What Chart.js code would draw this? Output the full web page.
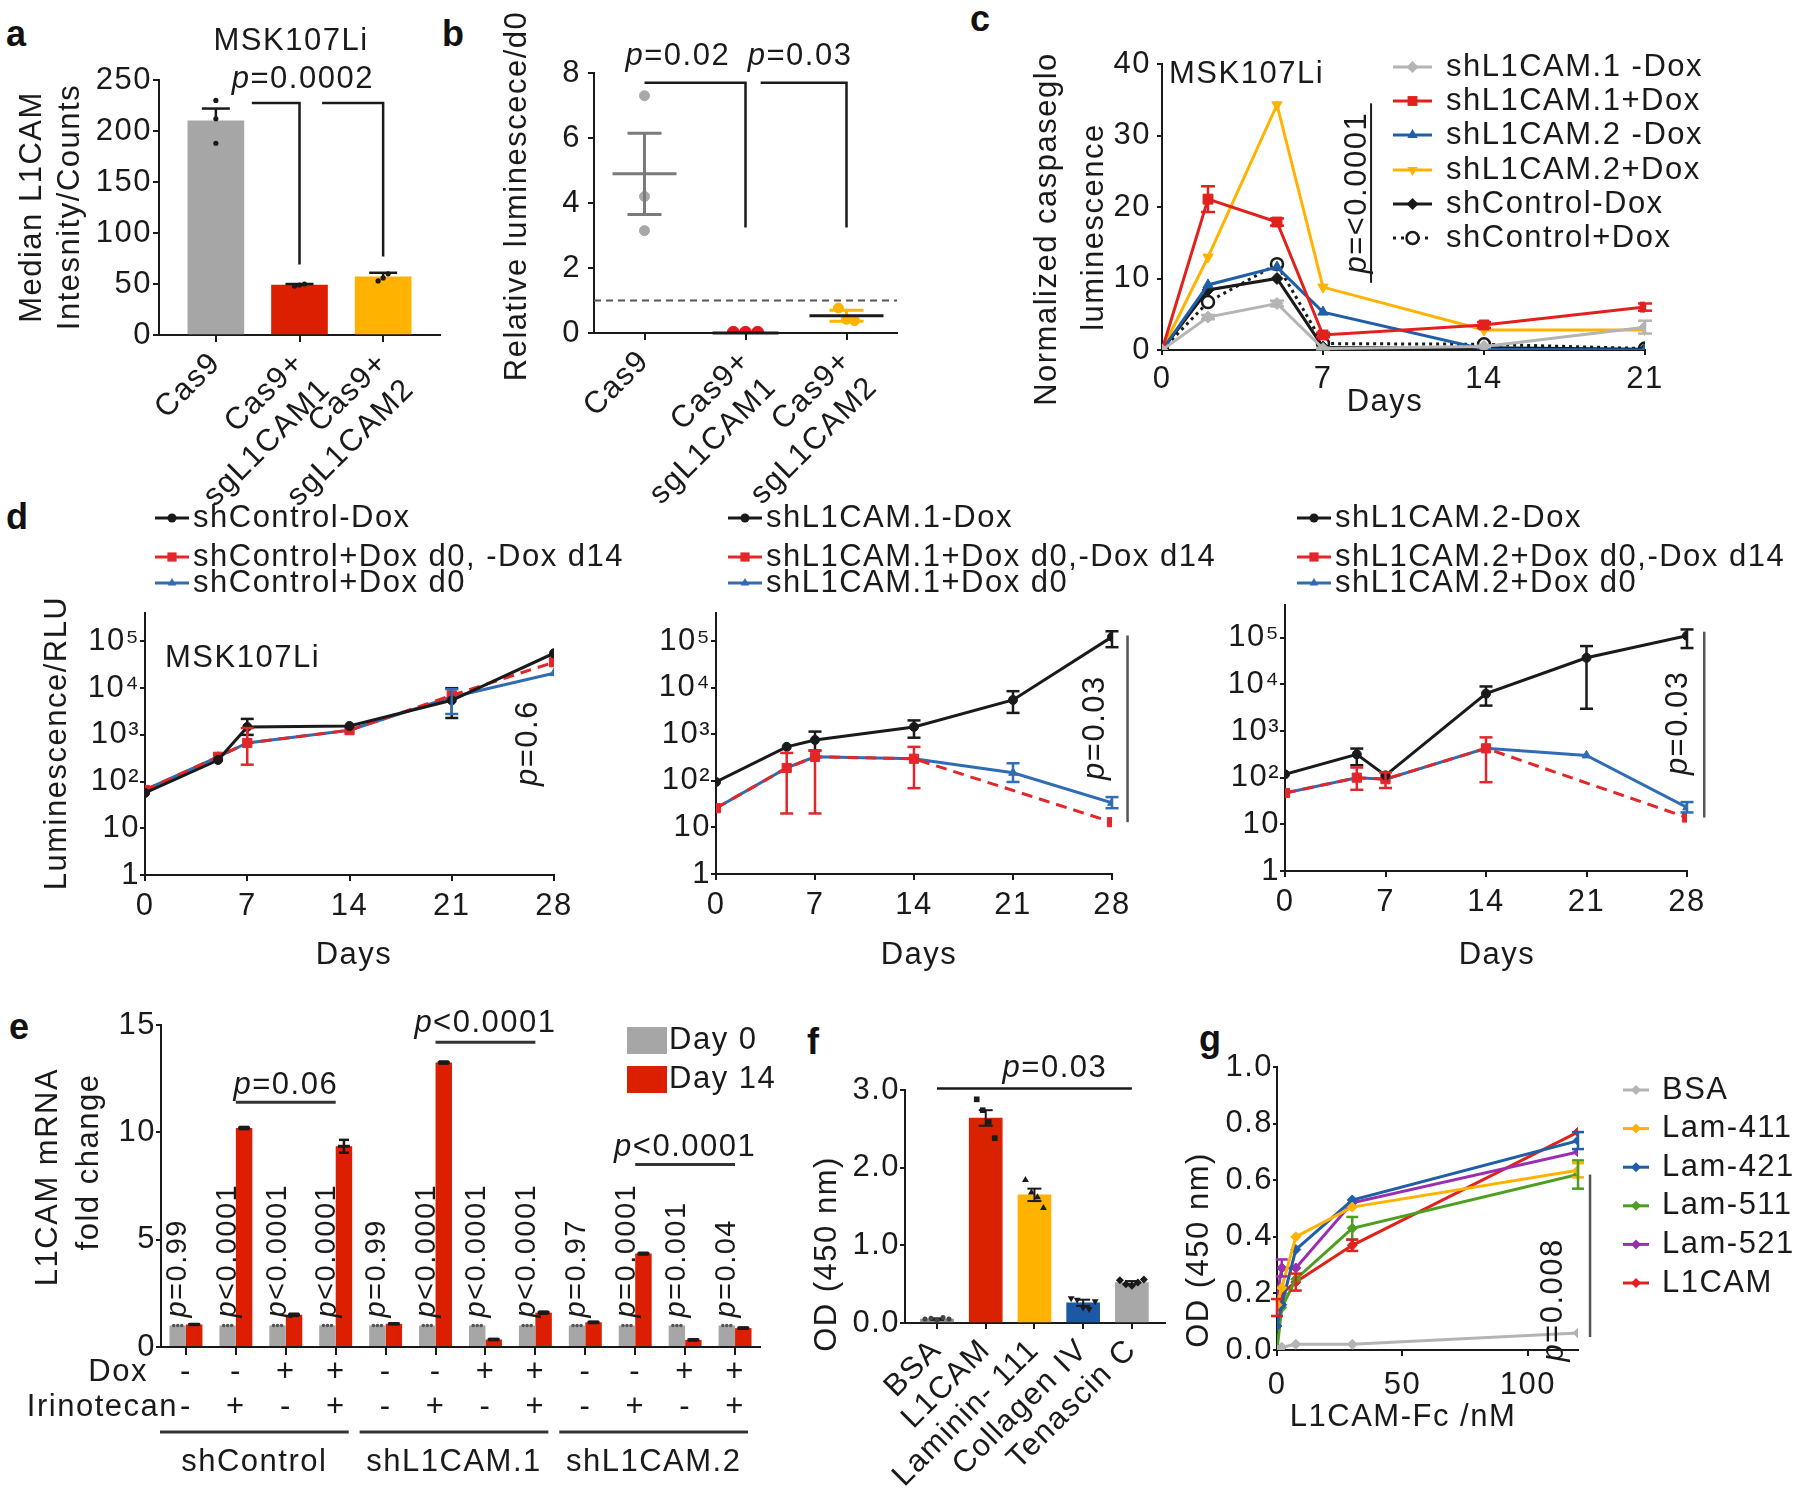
<!DOCTYPE html>
<html>
<head>
<meta charset="utf-8">
<title>L1CAM panels</title>
<script src="https://cdn.jsdelivr.net/npm/chart.js@4.4.1/dist/chart.umd.min.js"></script>
<style>
  html, body { margin: 0; padding: 0; background: #fff; }
  body { position: relative; width: 1800px; height: 1509px; overflow: hidden; }
  canvas { position: absolute; }
  .tag { position: absolute; font: bold 36px "Liberation Sans", Arial, sans-serif; line-height: 1; color: #111; }
</style>
</head>
<body>
<div class="tag" style="left:6px;top:16px">a</div>
<div class="tag" style="left:442px;top:16px">b</div>
<div class="tag" style="left:970px;top:1px">c</div>
<div class="tag" style="left:6px;top:499px">d</div>
<div class="tag" style="left:9px;top:1009px">e</div>
<div class="tag" style="left:807px;top:1024px">f</div>
<div class="tag" style="left:1199px;top:1021px">g</div>
<canvas id="chartA"></canvas>
<canvas id="chartB"></canvas>
<canvas id="chartC"></canvas>
<canvas id="chartD1"></canvas>
<canvas id="chartD2"></canvas>
<canvas id="chartD3"></canvas>
<canvas id="chartE"></canvas>
<canvas id="chartF"></canvas>
<canvas id="chartG"></canvas>
<script>
const FONT = '"Liberation Sans", Arial, sans-serif';
const FS = 31;
const INK = '#1a1a1a';
const GRAY = '#a6a6a6', RED = '#dc1f00', GOLD = '#ffb300', BLUE = '#1f5ea8', LGRAY = '#b4b4b4';
const CRED = '#e2201c', DRED = '#e3262a', DBLUE = '#2f6cb3', GREEN = '#4c9f1f', PURPLE = '#9b2db0';

// a - flow cytometry
const aLabels = [['Cas9'], ['Cas9+', 'sgL1CAM1'], ['Cas9+', 'sgL1CAM2']];
const aMeans = [210, 49, 57];
const aUpper = [222, 50, 61];
const aPoints = [[230, 212, 188], [48, 49, 50], [53, 56, 60]];

// b - relative luminescence
const bLabels = [['Cas9'], ['Cas9+', 'sgL1CAM1'], ['Cas9+', 'sgL1CAM2']];
const bPoints = [[7.3, 4.2, 3.15], [0.02, 0.02, 0.02], [0.77, 0.42, 0.38]];
const bMeans = [4.9, 0.0, 0.53];
const bSem = [1.25, 0, 0.17];

// c - caspase-glo time course
const cDays = [0, 2, 5, 7, 14, 21];
const cNames = ['shL1CAM.1 -Dox', 'shL1CAM.1+Dox', 'shL1CAM.2 -Dox', 'shL1CAM.2+Dox', 'shControl-Dox', 'shControl+Dox'];
const cL1Minus = [0, 4.6, 6.5, 0.2, 0.5, 3.2];
const cL1Plus = [0, 21.1, 17.9, 2.1, 3.5, 6.0];
const cL2Minus = [0, 9.1, 11.6, 5.3, 0.1, 0.0];
const cL2Plus = [0, 13.0, 34.3, 8.8, 2.8, 2.8];
const cCtrlMinus = [0, 8.4, 10.0, 0.4, 0.3, 0.1];
const cCtrlPlus = [0, 6.7, 12.0, 0.9, 0.8, 0.2];
const cL1MinusSem = [0, 0.3, 0.4, 0.1, 0.1, 0.9];
const cL1PlusSem = [0, 1.8, 0.5, 0.3, 0.4, 0.5];

// d - growth curves (log)
const dDays = [0, 5, 7, 14, 21, 28];
const dTicks = [1, 10, 100, 1000, 10000, 100000];
const dTickText = ['1', '10', '10²', '10³', '10⁴', '10⁵'];
const d1Names = ['shControl-Dox', 'shControl+Dox d0, -Dox d14', 'shControl+Dox d0'];
const d1Minus = [57, 290, 1480, 1550, 5500, 56000];
const d1MinusErr = [null, null, [1000, 2200], null, [2300, 10000], null];
const d1Switch = [66, 340, 670, 1260, 7000, 36000];
const d1SwitchErr = [null, null, [230, 1400], null, null, null];
const d1Stay = [66, 340, 670, 1260, 6500, 21000];
const d1StayErr = [null, null, null, null, [2800, 9500], null];
const d2Names = ['shL1CAM.1-Dox', 'shL1CAM.1+Dox d0,-Dox d14', 'shL1CAM.1+Dox d0'];
const d2Minus = [95, 540, 760, 1450, 5500, 125000];
const d2MinusErr = [null, null, [450, 1150], [850, 2000], [2900, 8500], [75000, 165000]];
const d2Switch = [26, 190, 330, 300, null, 13];
const d2SwitchErr = [null, [20, 400], [20, 450], [70, 540], null, null];
const d2Stay = [26, 190, 330, 300, 150, 34];
const d2StayErr = [null, null, null, null, [95, 240], [26, 45]];
const d3Names = ['shL1CAM.2-Dox', 'shL1CAM.2+Dox d0,-Dox d14', 'shL1CAM.2+Dox d0'];
const d3Minus = [118, 316, 112, 6300, 37000, 110000];
const d3MinusErr = [null, [185, 420], null, [3500, 9000], [3000, 66000], [60000, 150000]];
const d3Switch = [47, 100, 93, 425, null, 14];
const d3SwitchErr = [null, [55, 165], [60, 130], [80, 730], null, null];
const d3Stay = [47, 100, 93, 425, 300, 23];
const d3StayErr = [null, null, null, null, null, [18, 30]];

// e - qPCR
const eDox = ['-', '-', '+', '+', '-', '-', '+', '+', '-', '-', '+', '+'];
const eIrino = ['-', '+', '-', '+', '-', '+', '-', '+', '-', '+', '-', '+'];
const eDay0 = [1, 1, 1, 1, 1, 1, 1, 1, 1, 1, 1, 1];
const eDay14 = [1.05, 10.2, 1.5, 9.35, 1.08, 13.25, 0.35, 1.6, 1.15, 4.35, 0.33, 0.88];
const eDay14Sem = [0.02, 0.05, 0.05, 0.3, 0.02, 0.05, 0.03, 0.05, 0.03, 0.04, 0.03, 0.03];
const ePvals = ['p=0.99', 'p<0.0001', 'p<0.0001', 'p<0.0001', 'p=0.99', 'p<0.0001',
                'p<0.0001', 'p<0.0001', 'p=0.97', 'p=0.0001', 'p=0.001', 'p=0.04'];
const eGroups = ['shControl', 'shL1CAM.1', 'shL1CAM.2'];

// f - adhesion
const fLabels = ['BSA', 'L1CAM', 'Laminin- 111', 'Collagen IV', 'Tenascin C'];
const fMeans = [0.05, 2.64, 1.65, 0.26, 0.52];
const fSem = [0.01, 0.1, 0.08, 0.04, 0.02];
const fPoints = [[0.05, 0.06, 0.04, 0.07, 0.05], [2.88, 2.74, 2.59, 2.38], [1.84, 1.68, 1.62, 1.48],
                 [0.32, 0.30, 0.20, 0.18, 0.28], [0.55, 0.50, 0.48, 0.52, 0.56]];

// g - binding
const gConc = [0, 1.9, 7.5, 30, 120];
const gNames = ['BSA', 'Lam-411', 'Lam-421', 'Lam-511', 'Lam-521', 'L1CAM'];
const gBSA = [0.0, 0.01, 0.02, 0.02, 0.06];
const gLam411 = [0.16, 0.22, 0.40, 0.505, 0.635];
const gLam421 = [0.085, 0.16, 0.355, 0.53, 0.74];
const gLam511 = [0.0, 0.15, 0.25, 0.43, 0.62];
const gLam521 = [0.19, 0.29, 0.29, 0.52, 0.70];
const gL1CAM = [0.15, 0.2, 0.24, 0.37, 0.77];

// ---------- helpers
const band = (vals, sem) => vals.map((v, i) => sem[i] ? [v - sem[i], v + sem[i]] : null);

function axis(o) {
  const a = {
    type: o.type || 'linear',
    offset: false,
    border: {display: true, color: INK, width: 2},
    grid: {display: true, drawOnChartArea: false, offset: false, tickLength: o.tick == null ? 6 : o.tick, color: INK, lineWidth: 2},
    ticks: Object.assign({color: INK, font: {family: FONT, size: FS}, padding: o.pad == null ? 3 : o.pad,
      autoSkip: false, minRotation: o.rot || 0, maxRotation: o.rot || 0}, o.ticks || {})
  };
  if (o.min != null) a.min = o.min;
  if (o.max != null) a.max = o.max;
  if (o.values) a.afterBuildTicks = s => { s.ticks = o.values.map(v => ({value: v})); };
  return a;
}

function build(id, plot, pad, config, draw) {
  const cv = document.getElementById(id);
  const [l, t, r, b] = plot;
  const left = l - pad.l, top = t - pad.t;
  const w = r - l + pad.l + pad.r, h = b - t + pad.t + pad.b;
  cv.width = w; cv.height = h;
  cv.style.left = left + 'px'; cv.style.top = top + 'px';
  cv.style.width = w + 'px'; cv.style.height = h + 'px';
  const sc = config.options.scales;
  sc.x.afterFit = s => { s.height = pad.b; };
  sc.y.afterFit = s => { s.width = pad.l; };
  Object.assign(config.options, {
    responsive: false, animation: false, devicePixelRatio: 1,
    layout: {padding: {left: 0, top: pad.t, right: pad.r, bottom: 0}},
    plugins: {legend: {display: false}, tooltip: {enabled: false}}
  });
  const pg = (x, y) => [x - left, y - top];
  config.plugins = [{
    id: 'marks',
    beforeLayout: c => { c.ctx.letterSpacing = '1.5px'; },
    beforeDraw: c => { c.ctx.letterSpacing = '1.5px'; },
    afterDraw: c => draw(c, pg)
  }];
  return new Chart(cv, config);
}

function text(ctx, s, x, y, o = {}) {
  ctx.save();
  ctx.translate(x, y);
  if (o.rot) ctx.rotate(o.rot);
  ctx.font = (o.size || FS) + 'px ' + FONT;
  ctx.textAlign = o.align || 'left';
  ctx.textBaseline = o.base || 'middle';
  ctx.fillStyle = o.color || INK;
  ctx.fillText(s, 0, 0);
  ctx.restore();
}

// p-values: italic p, upright rest
function pval(ctx, s, x, y, o = {}) {
  const size = o.size || FS;
  ctx.save();
  ctx.translate(x, y);
  if (o.rot) ctx.rotate(o.rot);
  ctx.textBaseline = o.base || 'alphabetic';
  ctx.textAlign = 'left';
  ctx.fillStyle = INK;
  ctx.font = 'italic ' + size + 'px ' + FONT;
  const w1 = ctx.measureText('p').width;
  ctx.font = size + 'px ' + FONT;
  const w2 = ctx.measureText(s.slice(1)).width;
  const x0 = o.align === 'center' ? -(w1 + w2) / 2 : o.align === 'right' ? -(w1 + w2) : 0;
  ctx.font = 'italic ' + size + 'px ' + FONT;
  ctx.fillText('p', x0, 0);
  ctx.font = size + 'px ' + FONT;
  ctx.fillText(s.slice(1), x0 + w1, 0);
  ctx.restore();
}

function path(ctx, pts, color, lw, dash) {
  ctx.save();
  ctx.strokeStyle = color;
  ctx.lineWidth = lw;
  ctx.setLineDash(dash || []);
  ctx.beginPath();
  pts.forEach(([x, y], i) => i ? ctx.lineTo(x, y) : ctx.moveTo(x, y));
  ctx.stroke();
  ctx.restore();
}

function errBar(ctx, x, y1, y2, cap, color, lw) {
  path(ctx, [[x, y1], [x, y2]], color, lw);
  path(ctx, [[x - cap / 2, y2], [x + cap / 2, y2]], color, lw);
}

function errRange(ctx, x, yLo, yHi, cap, color, lw) {
  path(ctx, [[x, yLo], [x, yHi]], color, lw);
  path(ctx, [[x - cap / 2, yLo], [x + cap / 2, yLo]], color, lw);
  path(ctx, [[x - cap / 2, yHi], [x + cap / 2, yHi]], color, lw);
}

function mark(ctx, style, x, y, r, fill, stroke, rot) {
  ctx.save();
  ctx.translate(x, y);
  ctx.rotate((rot || 0) * Math.PI / 180);
  ctx.beginPath();
  if (style === 'rect') {
    const s = r * Math.SQRT1_2;
    ctx.rect(-s, -s, 2 * s, 2 * s);
  } else if (style === 'rectRot') {
    ctx.moveTo(0, -r); ctx.lineTo(r, 0); ctx.lineTo(0, r); ctx.lineTo(-r, 0); ctx.closePath();
  } else if (style === 'triangle') {
    for (let k = 0; k < 3; k++) {
      const a = k * 2 * Math.PI / 3;
      if (k) ctx.lineTo(Math.sin(a) * r, -Math.cos(a) * r); else ctx.moveTo(0, -r);
    }
    ctx.closePath();
  } else {
    ctx.arc(0, 0, r, 0, 2 * Math.PI);
  }
  ctx.fillStyle = fill;
  ctx.fill();
  if (stroke && stroke !== fill) { ctx.strokeStyle = stroke; ctx.lineWidth = 2.5; ctx.stroke(); }
  ctx.restore();
}

function series(label, xs, ys, color, style, extra) {
  return Object.assign({
    label, data: ys.map((v, i) => ({x: xs[i], y: v})),
    borderColor: color, backgroundColor: color, pointBackgroundColor: color, pointBorderColor: color,
    borderWidth: 3, pointStyle: style, pointRadius: 5, pointBorderWidth: 1, pointRotation: 0,
    tension: 0, spanGaps: true, fill: false
  }, extra || {});
}

function drawErrs(c, cap) {
  const ctx = c.ctx, X = c.scales.x, Y = c.scales.y;
  c.data.datasets.forEach(ds => {
    if (!ds.errs) return;
    ds.errs.forEach((e, i) => {
      if (!e) return;
      errRange(ctx, X.getPixelForValue(ds.data[i].x), Y.getPixelForValue(e[0]), Y.getPixelForValue(e[1]), cap || 14, ds.borderColor, 2.5);
    });
  });
}

function legend(c, pg, x0, ys, len, gap) {
  const ctx = c.ctx;
  c.data.datasets.forEach((ds, i) => {
    const [x, y] = pg(x0, ys[i]);
    path(ctx, [[x, y], [x + len, y]], ds.borderColor, 3, ds.legendDash);
    mark(ctx, ds.pointStyle, x + len / 2, y, ds.pointRadius, ds.pointBackgroundColor, ds.pointBorderColor, ds.pointRotation);
    text(ctx, ds.label, x + len + gap, y);
  });
}

const UP = -Math.PI / 2;

// ---------- a
build('chartA', [159, 80, 440, 335], {l: 159, t: 80, r: 12, b: 190}, {
  type: 'bar',
  data: {datasets: [{data: aMeans.map((v, i) => ({x: i, y: v})), backgroundColor: [GRAY, RED, GOLD], barThickness: 56}]},
  options: {scales: {
    x: axis({min: -0.68, max: 2.68, values: [0, 1, 2], rot: 45, tick: 7, pad: 3, ticks: {callback: v => aLabels[v]}}),
    y: axis({min: 0, max: 250, tick: 6, pad: 1, ticks: {stepSize: 50}})
  }}
}, (c, pg) => {
  const ctx = c.ctx, X = c.scales.x, Y = c.scales.y;
  const P = (x, y) => [X.getPixelForValue(x), Y.getPixelForValue(y)];
  aMeans.forEach((m, i) => {
    const x = X.getPixelForValue(i);
    errBar(ctx, x, Y.getPixelForValue(m), Y.getPixelForValue(aUpper[i]), 28, INK, 2.5);
    aPoints[i].forEach((v, j) => mark(ctx, 'circle', x + (i ? (j - 1) * 5 : 0), Y.getPixelForValue(v), 2.6, INK));
  });
  path(ctx, [P(0.43, 227.5), P(1, 227.5), P(1, 69)], INK, 2.5);
  path(ctx, [P(1.27, 227.5), P(2, 227.5), P(2, 77)], INK, 2.5);
  pval(ctx, 'p=0.0002', ...P(1.04, 242), {align: 'center'});
  text(ctx, 'MSK107Li', ...pg(291, 50), {align: 'center', base: 'alphabetic'});
  text(ctx, 'Median L1CAM', ...pg(32, 207), {rot: UP, align: 'center'});
  text(ctx, 'Intesnity/Counts', ...pg(70, 207), {rot: UP, align: 'center'});
});

// ---------- b
const bColors = ['#a8a8a8', '#e8141e', GOLD];
const bSpread = [0, 0.12, 0.08];
build('chartB', [594, 73, 897, 333], {l: 100, t: 73, r: 15, b: 190}, {
  type: 'scatter',
  data: {datasets: bPoints.map((pts, i) => ({
    data: pts.map((v, j) => ({x: i + (j - (pts.length - 1) / 2) * bSpread[i], y: v})),
    pointRadius: i === 1 ? 6 : 5, pointBackgroundColor: bColors[i], pointBorderColor: bColors[i]
  }))},
  options: {scales: {
    x: axis({min: -0.5, max: 2.5, values: [0, 1, 2], rot: 45, tick: 7, pad: 3, ticks: {callback: v => bLabels[v]}}),
    y: axis({min: 0, max: 8, tick: 6, pad: 7, ticks: {stepSize: 2}})
  }}
}, (c, pg) => {
  const ctx = c.ctx, X = v => c.scales.x.getPixelForValue(v), Y = v => c.scales.y.getPixelForValue(v);
  path(ctx, [[c.chartArea.left, Y(1)], [c.chartArea.right, Y(1)]], '#555', 2, [7, 5]);
  const halfW = [32, 33, 37];
  bMeans.forEach((m, i) => {
    const x = X(i);
    if (bSem[i]) errRange(ctx, x, Y(m - bSem[i]), Y(m + bSem[i]), 34, i === 0 ? '#7a7a7a' : GOLD, 3);
    path(ctx, [[x - halfW[i], Y(m)], [x + halfW[i], Y(m)]], i === 0 ? '#7a7a7a' : INK, 3);
  });
  path(ctx, [[X(0), Y(7.7)], [X(1), Y(7.7)], [X(1), Y(3.25)]], INK, 2.5);
  path(ctx, [[X(1.15), Y(7.7)], [X(2), Y(7.7)], [X(2), Y(3.25)]], INK, 2.5);
  pval(ctx, 'p=0.02', X(0.33), Y(8.25), {align: 'center'});
  pval(ctx, 'p=0.03', X(1.54), Y(8.25), {align: 'center'});
  text(ctx, 'Relative luminescece/d0', ...pg(517, 196), {rot: UP, align: 'center'});
});

// ---------- c
build('chartC', [1162, 64, 1645, 350], {l: 137, t: 64, r: 155, b: 75}, {
  type: 'line',
  data: {datasets: [
    series(cNames[0], cDays, cL1Minus, LGRAY, 'rectRot', {pointRadius: 6, errs: band(cL1Minus, cL1MinusSem)}),
    series(cNames[1], cDays, cL1Plus, CRED, 'rect', {pointRadius: 7, errs: band(cL1Plus, cL1PlusSem)}),
    series(cNames[2], cDays, cL2Minus, BLUE, 'triangle', {pointRadius: 6}),
    series(cNames[3], cDays, cL2Plus, GOLD, 'triangle', {pointRadius: 6, pointRotation: 180}),
    series(cNames[4], cDays, cCtrlMinus, INK, 'rectRot', {pointRadius: 6}),
    series(cNames[5], cDays, cCtrlPlus, INK, 'circle', {pointRadius: 6, pointBackgroundColor: '#fff',
      pointBorderWidth: 2.5, borderDash: [3, 4], legendDash: [3, 5]})
  ]},
  options: {scales: {
    x: axis({min: 0, max: 21, values: [0, 7, 14, 21], tick: 5, pad: 6}),
    y: axis({min: 0, max: 40, tick: 5, pad: 6, ticks: {stepSize: 10}})
  }}
}, (c, pg) => {
  const ctx = c.ctx, X = v => c.scales.x.getPixelForValue(v), Y = v => c.scales.y.getPixelForValue(v);
  drawErrs(c, 14);
  legend(c, pg, 1393, [67, 101, 135, 170, 204, 238], 39, 14);
  text(ctx, 'MSK107Li', ...pg(1169, 83), {base: 'alphabetic'});
  pval(ctx, 'p=<0.0001', X(8.48), Y(22), {rot: UP, align: 'center', base: 'middle'});
  path(ctx, [[X(9.09), Y(34.5)], [X(9.09), Y(9.4)]], INK, 2);
  text(ctx, 'Normalized caspaseglo', ...pg(1047, 229), {rot: UP, align: 'center'});
  text(ctx, 'luminescence', ...pg(1094, 227), {rot: UP, align: 'center'});
  text(ctx, 'Days', ...pg(1385, 402), {align: 'center'});
});

// ---------- d
function buildD(id, plot, pad, yMax, names, minus, sw, stay, errs, legendX, daysX, extra) {
  return build(id, plot, pad, {
    type: 'line',
    data: {datasets: [
      series(names[0], dDays, minus, INK, 'circle', {pointRadius: 4.5, errs: errs[0]}),
      series(names[1], dDays, sw, DRED, 'rect', {pointRadius: 6.5, borderDash: [11, 7], legendDash: [], errs: errs[1]}),
      series(names[2], dDays, stay, DBLUE, 'triangle', {pointRadius: 5, errs: errs[2]})
    ]},
    options: {scales: {
      x: axis({min: 0, max: 28, values: [0, 7, 14, 21, 28], tick: 6, pad: 7}),
      y: axis({type: 'logarithmic', min: 1, max: yMax, values: dTicks, tick: 5, pad: 0,
        ticks: {callback: v => dTickText[dTicks.indexOf(v)]}})
    }}
  }, (c, pg) => {
    drawErrs(c, 13);
    legend(c, pg, legendX, [518, 557, 583], 34, 4);
    text(c.ctx, 'Days', ...pg(daysX, 955), {align: 'center'});
    extra(c, pg, v => c.scales.x.getPixelForValue(v), v => c.scales.y.getPixelForValue(v));
  });
}

buildD('chartD1', [145, 613, 554, 875], {l: 145, t: 130, r: 90, b: 100}, 407000, d1Names,
  d1Minus, d1Switch, d1Stay, [d1MinusErr, d1SwitchErr, d1StayErr], 155, 354, (c, pg, X, Y) => {
    text(c.ctx, 'MSK107Li', ...pg(165, 658));
    pval(c.ctx, 'p=0.6', ...pg(528, 743), {rot: UP, align: 'center', base: 'middle'});
    text(c.ctx, 'Luminescence/RLU', ...pg(57, 743), {rot: UP, align: 'center'});
  });

buildD('chartD2', [716, 613, 1112, 874], {l: 100, t: 130, r: 110, b: 101}, 407000, d2Names,
  d2Minus, d2Switch, d2Stay, [d2MinusErr, d2SwitchErr, d2StayErr], 728, 919, (c, pg, X, Y) => {
    pval(c.ctx, 'p=0.03', X(26.8), Y(1400), {rot: UP, align: 'center', base: 'middle'});
    path(c.ctx, [[X(29.1), Y(134000)], [X(29.1), Y(13)]], '#555', 2.5);
  });

buildD('chartD3', [1285, 605, 1687, 871], {l: 100, t: 122, r: 113, b: 104}, 501000, d3Names,
  d3Minus, d3Switch, d3Stay, [d3MinusErr, d3SwitchErr, d3StayErr], 1297, 1497, (c, pg, X, Y) => {
    pval(c.ctx, 'p=0.03', X(27.4), Y(1500), {rot: UP, align: 'center', base: 'middle'});
    path(c.ctx, [[X(29.2), Y(134000)], [X(29.2), Y(14)]], '#555', 2.5);
  });

// ---------- e
build('chartE', [161, 1025, 760, 1347], {l: 161, t: 35, r: 40, b: 135}, {
  type: 'bar',
  data: {
    labels: eDox.map((d, i) => [d, eIrino[i]]),
    datasets: [
      {label: 'Day 0', data: eDay0, backgroundColor: GRAY, categoryPercentage: 0.66, barPercentage: 1},
      {label: 'Day 14', data: eDay14, backgroundColor: RED, categoryPercentage: 0.66, barPercentage: 1}
    ]
  },
  options: {scales: {
    x: Object.assign(axis({type: 'category', tick: 8, pad: 0, ticks: {font: {family: FONT, size: FS, lineHeight: 1.13}}}), {offset: true}),
    y: axis({min: 0, max: 15, tick: 5, pad: 0, ticks: {stepSize: 5}})
  }}
}, (c, pg) => {
  const ctx = c.ctx, X = v => c.scales.x.getPixelForValue(v), Y = v => c.scales.y.getPixelForValue(v);
  const g = c.getDatasetMeta(0).data, r = c.getDatasetMeta(1).data;
  eDay0.forEach((v, i) => {
    [-4, 0, 4].forEach(d => mark(ctx, 'circle', g[i].x + d, Y(v), 1.8, '#555'));
    errRange(ctx, r[i].x, Y(eDay14[i] - eDay14Sem[i]), Y(eDay14[i] + eDay14Sem[i]), 10, INK, 2.5);
    path(ctx, [[r[i].x - 6, Y(eDay14[i])], [r[i].x + 6, Y(eDay14[i])]], INK, 3);
    pval(ctx, ePvals[i], g[i].x, Y(1) - 8, {rot: UP, base: 'middle', size: 29});
  });
  const lines = [[1, 3, 11.4, 8, 'p=0.06'], [5, 7, 14.2, 10, 'p<0.0001'], [9, 11, 8.5, 9, 'p<0.0001']];
  lines.forEach(([a, b, y, gap, s]) => {
    path(ctx, [[X(a), Y(y)], [X(b), Y(y)]], '#333', 3);
    pval(ctx, s, X((a + b) / 2), Y(y) - gap, {align: 'center'});
  });
  const [lx, ly] = pg(627, 1027);
  ctx.fillStyle = GRAY; ctx.fillRect(lx, ly, 40, 27);
  ctx.fillStyle = RED; ctx.fillRect(lx, ly + 39, 40, 27);
  text(ctx, 'Day 0', ...pg(669, 1040));
  text(ctx, 'Day 14', ...pg(669, 1079));
  text(ctx, 'Dox', ...pg(148, 1372), {align: 'right'});
  text(ctx, 'Irinotecan', ...pg(178, 1407), {align: 'right'});
  const gy = pg(0, 1432)[1];
  eGroups.forEach((name, k) => {
    const x1 = X(4 * k) - 26, x2 = X(4 * k + 3) + 13;
    path(ctx, [[x1, gy], [x2, gy]], '#333', 3);
    text(ctx, name, (x1 + x2) / 2, pg(0, 1462)[1], {align: 'center'});
  });
  text(ctx, 'L1CAM mRNA', ...pg(48, 1177), {rot: UP, align: 'center'});
  text(ctx, 'fold change', ...pg(89, 1162), {rot: UP, align: 'center'});
});

// ---------- f
const fColors = ['#8c8c8c', '#d92300', GOLD, '#1c58a4', '#a8a8a8'];
const fShapes = [['circle', 0], ['rect', 0], ['triangle', 0], ['triangle', 180], ['rectRot', 0]];
build('chartF', [905, 1090, 1165, 1323], {l: 100, t: 70, r: 30, b: 184}, {
  type: 'bar',
  data: {datasets: [{data: fMeans.map((v, i) => ({x: i, y: v})), backgroundColor: fColors, barThickness: 33}]},
  options: {scales: {
    x: axis({min: -0.657, max: 4.68, values: [0, 1, 2, 3, 4], rot: 45, tick: 6, pad: 3, ticks: {callback: v => fLabels[v]}}),
    y: axis({min: 0, max: 3, tick: 5, pad: 0, ticks: {stepSize: 1, callback: v => v.toFixed(1)}})
  }}
}, (c, pg) => {
  const ctx = c.ctx, X = v => c.scales.x.getPixelForValue(v), Y = v => c.scales.y.getPixelForValue(v);
  fMeans.forEach((m, i) => {
    errRange(ctx, X(i), Y(m - fSem[i]), Y(m + fSem[i]), 14, INK, 2);
    const pts = fPoints[i];
    pts.forEach((v, j) => mark(ctx, fShapes[i][0], X(i) + (j - (pts.length - 1) / 2) * 6, Y(v),
      i ? 4 : 2.5, i ? INK : '#444', null, fShapes[i][1]));
  });
  path(ctx, [[X(0), Y(3.02)], [X(4), Y(3.02)]], INK, 2.5);
  pval(ctx, 'p=0.03', X(2.42), Y(3.02) - 11, {align: 'center'});
  text(ctx, 'OD (450 nm)', ...pg(827, 1254), {rot: UP, align: 'center'});
});

// ---------- g
const gSets = [gBSA, gLam411, gLam421, gLam511, gLam521, gL1CAM];
const gColors = [LGRAY, GOLD, BLUE, GREEN, PURPLE, CRED];
const gErrs = [
  null,
  [null, null, null, null, [0.61, 0.66]],
  [null, null, null, null, [0.71, 0.77]],
  [null, null, null, [0.39, 0.47], [0.57, 0.67]],
  [null, [0.26, 0.32], null, null, null],
  [[0.12, 0.18], null, [0.21, 0.27], [0.35, 0.39], null]
];
build('chartG', [1277, 1067, 1578, 1350], {l: 100, t: 50, r: 222, b: 90}, {
  type: 'line',
  data: {datasets: gSets.map((vals, i) => series(gNames[i], gConc, vals, gColors[i], 'rectRot',
    {pointRadius: 5, errs: gErrs[i]}))},
  options: {scales: {
    x: axis({min: 0, max: 120, values: [0, 50, 100], tick: 6, pad: 11}),
    y: axis({min: 0, max: 1, tick: 4, pad: 0, ticks: {stepSize: 0.2, callback: v => v.toFixed(1)}})
  }}
}, (c, pg) => {
  const ctx = c.ctx, X = v => c.scales.x.getPixelForValue(v), Y = v => c.scales.y.getPixelForValue(v);
  drawErrs(c, 12);
  legend(c, pg, 1623, gNames.map((n, i) => 1090 + i * 38.6), 26, 13);
  pval(ctx, 'p=0.008', X(110.4), Y(0.177), {rot: UP, align: 'center', base: 'middle'});
  path(ctx, [[X(124.8), Y(0.62)], [X(124.8), Y(0.046)]], '#555', 2.5);
  text(ctx, 'OD (450 nm)', ...pg(1199, 1250), {rot: UP, align: 'center'});
  text(ctx, 'L1CAM-Fc /nM', ...pg(1403, 1417), {align: 'center'});
});
</script>
</body>
</html>
